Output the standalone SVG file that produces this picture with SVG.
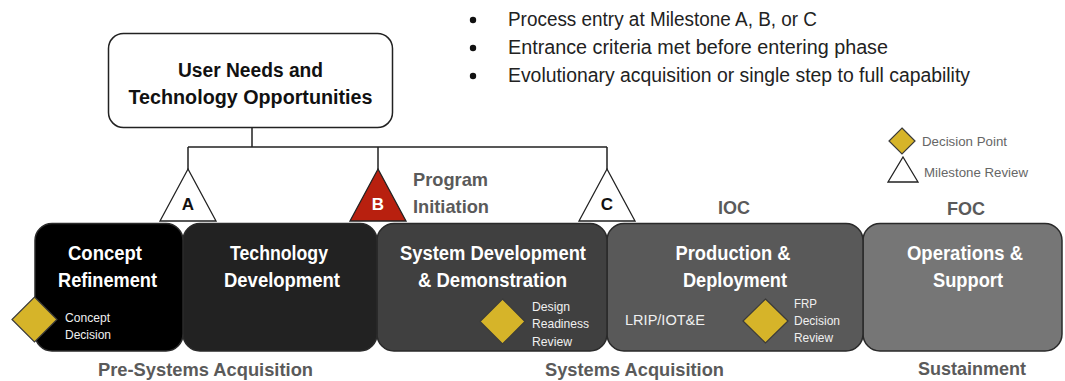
<svg xmlns="http://www.w3.org/2000/svg" width="1065" height="381" viewBox="0 0 1065 381">
<style>
text{font-family:"Liberation Sans",Arial,sans-serif}
.phase{stroke:#2a2a2a;stroke-width:1.5}
.pt{fill:#fff;font-weight:bold;font-size:20px;text-anchor:middle}
.gl{fill:#5a5a5a;font-weight:bold;font-size:19px}
.dia{fill:#d6b429;stroke:#3a3a3a;stroke-width:1.2}
.sm{fill:#f0f0f0;font-size:13px}
.tri{stroke:#222;stroke-width:1.3}
.tl{font-weight:bold;font-size:17px;text-anchor:middle}
.bl{fill:#222;font-size:20px}
.lg{fill:#666;font-size:13px}
.conn{fill:none;stroke:#222;stroke-width:1.5}
</style>
<rect width="1065" height="381" fill="#fff"/>
<g id="connectors">
<path class="conn" d="M252 128V147M188 147H607M188 147V170M378 147V170M607 147V170"/>
</g>
<g id="user-needs">
<rect x="108.5" y="33.5" width="284" height="94" rx="15" fill="#fff" stroke="#222" stroke-width="1.5"/>
<text x="250.5" y="77" text-anchor="middle" font-weight="bold" font-size="20" fill="#111" textLength="145" lengthAdjust="spacingAndGlyphs">User Needs and</text>
<text x="250.5" y="104" text-anchor="middle" font-weight="bold" font-size="20" fill="#111" textLength="244" lengthAdjust="spacingAndGlyphs">Technology Opportunities</text>
</g>
<g id="bullets">
<circle cx="473" cy="20" r="3.2" fill="#111"/>
<circle cx="473" cy="48" r="3.2" fill="#111"/>
<circle cx="473" cy="76" r="3.2" fill="#111"/>
<text class="bl" x="508" y="26" textLength="309" lengthAdjust="spacingAndGlyphs">Process entry at Milestone A, B, or C</text>
<text class="bl" x="508" y="54" textLength="380" lengthAdjust="spacingAndGlyphs">Entrance criteria met before entering phase</text>
<text class="bl" x="508" y="82" textLength="462" lengthAdjust="spacingAndGlyphs">Evolutionary acquisition or single step to full capability</text>
</g>
<g id="legend">
<polygon class="dia" points="902,128 915,141 902,154 889,141"/>
<text class="lg" x="922" y="146" textLength="85" lengthAdjust="spacingAndGlyphs">Decision Point</text>
<polygon points="903,157 918,182 888,182" fill="#fff" stroke="#222" stroke-width="1.3"/>
<text class="lg" x="924" y="177" textLength="104" lengthAdjust="spacingAndGlyphs">Milestone Review</text>
</g>
<g id="operations-support">
<rect class="phase" x="863" y="223.5" width="199" height="127.5" rx="17" fill="#767676"/>
<text class="pt" x="965" y="260" textLength="116" lengthAdjust="spacingAndGlyphs">Operations &amp;</text>
<text class="pt" x="968" y="287" textLength="70" lengthAdjust="spacingAndGlyphs">Support</text>
</g>
<g id="production-deployment">
<rect class="phase" x="607" y="223.5" width="256" height="127.5" rx="17" fill="#595959"/>
<text class="pt" x="733" y="260" textLength="115" lengthAdjust="spacingAndGlyphs">Production &amp;</text>
<text class="pt" x="735" y="287" textLength="104" lengthAdjust="spacingAndGlyphs">Deployment</text>
<text x="625" y="325" fill="#f0f0f0" font-size="15" textLength="80" lengthAdjust="spacingAndGlyphs">LRIP/IOT&amp;E</text>
<polygon class="dia" points="765.5,299 788,321 765.5,343 743,321"/>
<text class="sm" x="794" y="308" textLength="23" lengthAdjust="spacingAndGlyphs">FRP</text>
<text class="sm" x="794" y="325" textLength="46" lengthAdjust="spacingAndGlyphs">Decision</text>
<text class="sm" x="794" y="342" textLength="39" lengthAdjust="spacingAndGlyphs">Review</text>
</g>
<g id="system-development">
<rect class="phase" x="377" y="223.5" width="230" height="127.5" rx="17" fill="#404040"/>
<text class="pt" x="493" y="260" textLength="186" lengthAdjust="spacingAndGlyphs">System Development</text>
<text class="pt" x="492.5" y="287" textLength="149" lengthAdjust="spacingAndGlyphs">&amp; Demonstration</text>
<polygon class="dia" points="502.5,299 525,321.5 502.5,344 480,321.5"/>
<text class="sm" x="532" y="311" textLength="38" lengthAdjust="spacingAndGlyphs">Design</text>
<text class="sm" x="532" y="328" textLength="57" lengthAdjust="spacingAndGlyphs">Readiness</text>
<text class="sm" x="532" y="346" textLength="40" lengthAdjust="spacingAndGlyphs">Review</text>
</g>
<g id="technology-development">
<rect class="phase" x="183" y="223.5" width="194" height="127.5" rx="17" fill="#222"/>
<text class="pt" x="279" y="260" textLength="98" lengthAdjust="spacingAndGlyphs">Technology</text>
<text class="pt" x="282" y="287" textLength="116" lengthAdjust="spacingAndGlyphs">Development</text>
</g>
<g id="concept-refinement">
<rect class="phase" x="35" y="223.5" width="148" height="127.5" rx="17" fill="#000"/>
<text class="pt" x="105" y="260" textLength="74" lengthAdjust="spacingAndGlyphs">Concept</text>
<text class="pt" x="107.5" y="287" textLength="99" lengthAdjust="spacingAndGlyphs">Refinement</text>
<polygon class="dia" points="34.5,297 57,319.5 34.5,342 12,319.5"/>
<text class="sm" x="65" y="322" textLength="45" lengthAdjust="spacingAndGlyphs">Concept</text>
<text class="sm" x="65" y="339" textLength="46" lengthAdjust="spacingAndGlyphs">Decision</text>
</g>
<g id="milestone-a">
<polygon class="tri" points="188,169 216,221 160,221" fill="#fff"/>
<text class="tl" x="188" y="210" fill="#111">A</text>
</g>
<g id="milestone-b">
<polygon class="tri" points="378,169 406,221 350,221" fill="#b8200f"/>
<text class="tl" x="378" y="210" fill="#fff">B</text>
</g>
<g id="milestone-c">
<polygon class="tri" points="607,169 635,221 579,221" fill="#fff"/>
<text class="tl" x="607" y="210" fill="#111">C</text>
</g>
<g id="labels">
<text class="gl" x="413" y="186" textLength="75" lengthAdjust="spacingAndGlyphs">Program</text>
<text class="gl" x="413" y="213" textLength="76" lengthAdjust="spacingAndGlyphs">Initiation</text>
<text class="gl" x="718" y="214" textLength="32" lengthAdjust="spacingAndGlyphs">IOC</text>
<text class="gl" x="947" y="215" textLength="38" lengthAdjust="spacingAndGlyphs">FOC</text>
<text class="gl" x="98" y="376" textLength="215" lengthAdjust="spacingAndGlyphs">Pre-Systems Acquisition</text>
<text class="gl" x="545" y="376" textLength="179" lengthAdjust="spacingAndGlyphs">Systems Acquisition</text>
<text class="gl" x="918" y="375" textLength="108" lengthAdjust="spacingAndGlyphs">Sustainment</text>
</g>
</svg>
